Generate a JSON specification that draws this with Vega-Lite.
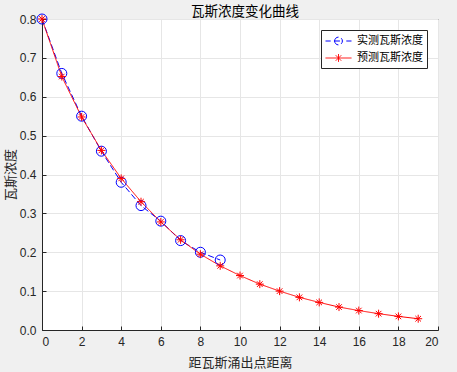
{
  "$schema": "https://vega.github.io/schema/vega-lite/v6.json",
  "autosize": "none",
  "width": 396,
  "height": 311,
  "padding": {"left": 42, "top": 19, "right": 19, "bottom": 42},
  "background": "#f0f0f0",
  "title": {"text": "瓦斯浓度变化曲线", "font": "Noto Sans CJK SC", "fontSize": 13.5, "fontWeight": "normal", "color": "#000000", "offset": -6, "dx": 5},
  "config": {
    "view": {"fill": "white", "stroke": "#262626", "strokeWidth": 1},
    "axis": {"labelFont": "Liberation Sans", "labelFontSize": 12, "labelColor": "#262626", "titleFont": "Noto Sans CJK SC", "titleFontSize": 13, "titleFontWeight": "normal", "titleColor": "#262626", "gridColor": "#e6e6e6", "domainColor": "#262626", "tickColor": "#262626", "tickSize": -4, "labelPadding": 10}
  },
  "data": {"values": [
    {"x": 0, "y": 0.80, "series": "实测瓦斯浓度"},
    {"x": 1, "y": 0.66, "series": "实测瓦斯浓度"},
    {"x": 2, "y": 0.55, "series": "实测瓦斯浓度"},
    {"x": 3, "y": 0.46, "series": "实测瓦斯浓度"},
    {"x": 4, "y": 0.38, "series": "实测瓦斯浓度"},
    {"x": 5, "y": 0.32, "series": "实测瓦斯浓度"},
    {"x": 6, "y": 0.28, "series": "实测瓦斯浓度"},
    {"x": 7, "y": 0.23, "series": "实测瓦斯浓度"},
    {"x": 8, "y": 0.20, "series": "实测瓦斯浓度"},
    {"x": 9, "y": 0.18, "series": "实测瓦斯浓度"},
    {"x": 0, "y": 0.80, "series": "预测瓦斯浓度"},
    {"x": 1, "y": 0.652, "series": "预测瓦斯浓度"},
    {"x": 2, "y": 0.548, "series": "预测瓦斯浓度"},
    {"x": 3, "y": 0.462, "series": "预测瓦斯浓度"},
    {"x": 4, "y": 0.39, "series": "预测瓦斯浓度"},
    {"x": 5, "y": 0.33, "series": "预测瓦斯浓度"},
    {"x": 6, "y": 0.278, "series": "预测瓦斯浓度"},
    {"x": 7, "y": 0.232, "series": "预测瓦斯浓度"},
    {"x": 8, "y": 0.195, "series": "预测瓦斯浓度"},
    {"x": 9, "y": 0.165, "series": "预测瓦斯浓度"},
    {"x": 10, "y": 0.14, "series": "预测瓦斯浓度"},
    {"x": 11, "y": 0.118, "series": "预测瓦斯浓度"},
    {"x": 12, "y": 0.10, "series": "预测瓦斯浓度"},
    {"x": 13, "y": 0.084, "series": "预测瓦斯浓度"},
    {"x": 14, "y": 0.071, "series": "预测瓦斯浓度"},
    {"x": 15, "y": 0.059, "series": "预测瓦斯浓度"},
    {"x": 16, "y": 0.05, "series": "预测瓦斯浓度"},
    {"x": 17, "y": 0.042, "series": "预测瓦斯浓度"},
    {"x": 18, "y": 0.035, "series": "预测瓦斯浓度"},
    {"x": 19, "y": 0.029, "series": "预测瓦斯浓度"}
  ]},
  "encoding": {
    "x": {"field": "x", "type": "quantitative", "scale": {"domain": [0, 20], "nice": false}, "axis": {"values": [0,2,4,6,8,10,12,14,16,18,20], "title": "距瓦斯涌出点距离", "titlePadding": 9}},
    "y": {"field": "y", "type": "quantitative", "scale": {"domain": [0, 0.8], "nice": false}, "axis": {"values": [0,0.1,0.2,0.3,0.4,0.5,0.6,0.7,0.8], "title": "瓦斯浓度", "titlePadding": 2}}
  },
  "layer": [
    {
      "mark": {"type": "line", "strokeWidth": 1},
      "encoding": {
        "color": {"field": "series", "type": "nominal", "scale": {"domain": ["实测瓦斯浓度", "预测瓦斯浓度"], "range": ["#0000ff", "#ff0000"]},
          "legend": {"title": null, "orient": "top-right", "offset": 11, "fillColor": "white", "strokeColor": "#262626", "padding": 4, "labelFont": "Noto Sans CJK SC", "labelFontSize": 11, "labelColor": "#000000", "symbolSize": 169, "symbolStrokeWidth": 1, "rowPadding": 4, "labelOffset": 18,
            "encode": {"symbols": {"update": {
              "shape": {"signal": "datum.value == '实测瓦斯浓度' ? 'M-1,0L-0.2,0M0.3,0L1.7,0M2.2,0L3,0M0.4,0A0.6,0.6 0 1,1 1.6,0A0.6,0.6 0 1,1 0.4,0' : 'M-1,0L3,0M1,-0.6L1,0.6M0.58,-0.42L1.42,0.42M0.58,0.42L1.42,-0.42'"},
              "size": {"value": 169},
              "strokeDash": {"value": []},
              "fill": {"value": "transparent"}
            }}}}},
        "strokeDash": {"field": "series", "type": "nominal", "scale": {"domain": ["实测瓦斯浓度", "预测瓦斯浓度"], "range": [[6, 3], [1, 0]]}, "legend": null}
      }
    },
    {
      "transform": [{"filter": "datum.series == '实测瓦斯浓度'"}],
      "mark": {"type": "point", "filled": false, "strokeWidth": 1, "opacity": 1, "shape": "circle", "size": 100, "stroke": "#0000ff"}
    },
    {
      "transform": [{"filter": "datum.series == '预测瓦斯浓度'"}],
      "mark": {"type": "point", "filled": false, "strokeWidth": 1, "opacity": 1, "shape": "M-1,0L1,0M0,-1L0,1M-0.7,-0.7L0.7,0.7M-0.7,0.7L0.7,-0.7", "size": 64, "stroke": "#ff0000"}
    }
  ]
}
